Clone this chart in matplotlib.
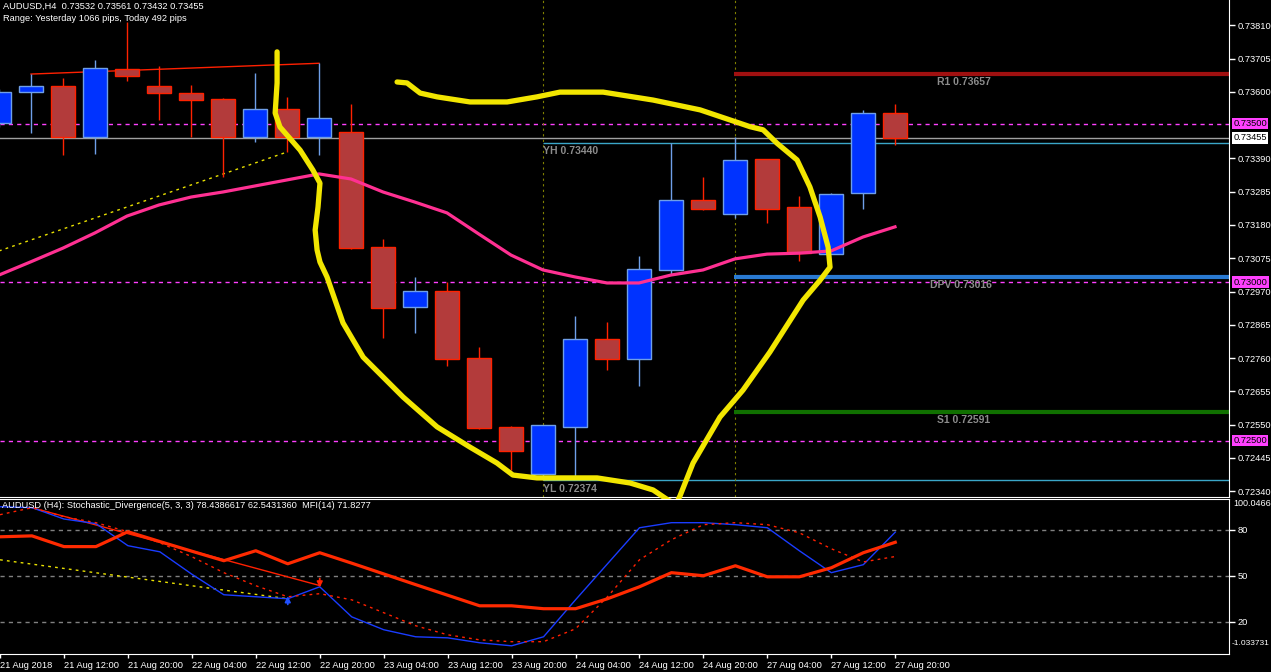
import numpy as np
import matplotlib.pyplot as plt
from matplotlib.transforms import blended_transform_factory

plt.rcParams['font.family'] = ['Liberation Sans', 'DejaVu Sans']

# ---- data (AUDUSD H4) ----
time_labels = ['21 Aug 2018', '21 Aug 12:00', '21 Aug 20:00', '22 Aug 04:00', '22 Aug 12:00',
               '22 Aug 20:00', '23 Aug 04:00', '23 Aug 12:00', '23 Aug 20:00', '24 Aug 04:00',
               '24 Aug 12:00', '24 Aug 20:00', '27 Aug 04:00', '27 Aug 12:00', '27 Aug 20:00']

opens = [0.73501, 0.73599, 0.73618, 0.73457, 0.73672, 0.73618, 0.73596, 0.73577, 0.73457, 0.73546,
         0.73457, 0.73473, 0.73110, 0.72921, 0.72972, 0.72760, 0.72543, 0.72394, 0.72543, 0.72820,
         0.72757, 0.73038, 0.73259, 0.73215, 0.73388, 0.73237, 0.73088, 0.73281, 0.73532]
highs = [0.73610, 0.73656, 0.73644, 0.73700, 0.73820, 0.73681, 0.73621, 0.73580, 0.73659, 0.73584,
         0.73690, 0.73562, 0.73136, 0.73016, 0.73000, 0.72795, 0.72546, 0.72550, 0.72893, 0.72874,
         0.73082, 0.73440, 0.73331, 0.73457, 0.73388, 0.73271, 0.73281, 0.73543, 0.73561]
lows = [0.73490, 0.73470, 0.73401, 0.73404, 0.73634, 0.73511, 0.73457, 0.73331, 0.73442, 0.73410,
        0.73401, 0.73105, 0.72823, 0.72839, 0.72735, 0.72536, 0.72407, 0.72374, 0.72385, 0.72722,
        0.72672, 0.73022, 0.73227, 0.73202, 0.73186, 0.73066, 0.73088, 0.73230, 0.73432]
closes = [0.73599, 0.73618, 0.73457, 0.73675, 0.73650, 0.73596, 0.73574, 0.73457, 0.73546, 0.73457,
          0.73517, 0.73107, 0.72918, 0.72972, 0.72757, 0.72539, 0.72467, 0.72549, 0.72820, 0.72757,
          0.73041, 0.73259, 0.73230, 0.73385, 0.73230, 0.73091, 0.73278, 0.73533, 0.73455]

ma_values = [0.73022, 0.73064, 0.73107, 0.73155, 0.73208, 0.73243, 0.73268, 0.73284, 0.73303, 0.73322,
             0.73341, 0.73325, 0.73284, 0.73252, 0.73218, 0.73151, 0.73085, 0.73038, 0.73016, 0.72997,
             0.72997, 0.73022, 0.73038, 0.73073, 0.73088, 0.73091, 0.73098, 0.73142, 0.73174]

mfi_values = [75.4, 76.0, 69.0, 69.0, 78.7, 72.3, 66.0, 59.8, 66.3, 57.8, 65.0, 58.2, 51.2, 44.2, 37.3,
              30.4, 30.4, 28.5, 28.5, 35.0, 42.8, 52.0, 50.0, 56.5, 49.3, 49.3, 55.2, 65.0, 71.83]
stoch_main = [95.0, 94.4, 87.0, 84.0, 69.6, 65.6, 51.0, 37.6, 36.3, 35.0, 42.8, 23.2, 14.8, 10.2, 9.5,
              6.3, 4.3, 10.2, 34.3, 57.8, 81.3, 84.6, 84.6, 83.3, 81.3, 66.3, 52.0, 57.2, 78.44]
stoch_signal = [89.8, 94.4, 88.5, 84.6, 78.7, 71.5, 62.4, 52.0, 43.5, 36.3, 38.3, 34.3, 25.9, 17.4, 11.5,
                8.2, 7.0, 7.0, 15.4, 36.3, 60.4, 73.5, 83.3, 84.6, 83.3, 78.0, 67.6, 59.0, 62.54]

bid = 0.73455
yh, yl = 0.73440, 0.72374
r1, dpv, s1 = 0.73657, 0.73016, 0.72591
round_levels = [0.735, 0.730, 0.725]
price_ticks = [0.73810, 0.73705, 0.73600, 0.73390, 0.73285, 0.73180, 0.73075, 0.72970,
               0.72865, 0.72760, 0.72655, 0.72550, 0.72445, 0.72340]
separator_bars = [17, 23]

# hand drawn yellow loop (bar position, price)
scribble_bar = [8.69, 8.69, 8.63, 8.78, 9.41, 9.81, 10.03, 9.97, 9.88, 9.94, 10.03, 10.25, 10.75, 11.38,
                12.63, 13.69, 14.72, 15.56, 16.06, 16.81, 18.69, 19.72, 20.44, 20.91, 21.16, 21.28,
                21.69, 22.53, 23.25, 24.09, 25.13, 25.66, 25.97, 25.91, 25.66, 25.34, 24.94, 24.31,
                23.88, 23.47, 21.91, 20.44, 18.88, 17.53, 16.81, 15.88, 14.72, 13.69, 13.16, 12.75, 12.44]
scribble_price = [0.73726, 0.73628, 0.73533, 0.73489, 0.73416, 0.73353, 0.73312, 0.73237, 0.73164,
                  0.73101, 0.73063, 0.73016, 0.72871, 0.72763, 0.72637, 0.72543, 0.72479, 0.72429,
                  0.72391, 0.72382, 0.72382, 0.72366, 0.72344, 0.72312, 0.72300, 0.72325, 0.72429,
                  0.72574, 0.72659, 0.72779, 0.72943, 0.73006, 0.73047, 0.73110, 0.73205, 0.73300,
                  0.73385, 0.73438, 0.73480, 0.73490, 0.73543, 0.73574, 0.73599, 0.73599, 0.73584,
                  0.73568, 0.73568, 0.73584, 0.73596, 0.73628, 0.73631]

# ---- figure ----
W, H = 1271, 672
fig = plt.figure(figsize=(W / 100, H / 100), dpi=100, facecolor='black')
ax = fig.add_axes([0, 1 - 497 / H, 1229 / W, 497 / H], facecolor='black')
ind = fig.add_axes([0, 1 - 654 / H, 1229 / W, 155 / H], facecolor='black')

x = np.arange(len(opens))
o, hi, lo, c = map(np.array, (opens, highs, lows, closes))
bull = c >= o
xmax = 1230 / 32

for a in (ax, ind):
    a.set_xlim(1 / 32, xmax)
    for s in ('left', 'top', 'right', 'bottom'):
        a.spines[s].set_color('white')
    a.spines['left'].set_visible(False)
ax.spines['top'].set_visible(False)

ax.set_ylim(0.723218, 0.738896)

# horizontal levels
for lv in round_levels:
    ax.axhline(lv, color='#ff40ff', lw=1, ls=(0, (3, 3)), zorder=1)
ax.axhline(bid, color='#a0a0a0', lw=1, zorder=1)
ax.hlines([yh, yl], 17, xmax, color='#3aa6c8', lw=1, zorder=1)
for b in separator_bars:
    ax.axvline(b, color='#808000', lw=0.8, ls=(0, (2, 3)), zorder=1)
ax.hlines(r1, 22.97, xmax, color='#a01010', lw=3, zorder=2)
ax.hlines(dpv, 22.97, xmax, color='#2a7ad2', lw=3, zorder=2)
ax.hlines(s1, 22.97, xmax, color='#107000', lw=3, zorder=2)

lab = dict(color='#8c8c8c', fontsize=7.5, fontweight='bold', va='top', ha='left',
           textcoords='offset points', xytext=(0, -2.5))
ax.annotate('YH %.5f' % yh, (17, yh), **lab)
ax.annotate('YL %.5f' % yl, (17, yl), **lab)
ax.annotate('R1 %.5f' % r1, (29.3, r1), **lab)
ax.annotate('DPV %.5f' % dpv, (29.1, dpv), **lab)
ax.annotate('S1 %.5f' % s1, (29.3, s1), **lab)

# divergence trend lines
ax.plot([0, 9], [0.73098, lows[9]], color='#e8e000', lw=1, ls=(0, (2, 3)), zorder=3)
ax.plot([1, 10], [highs[1], highs[10]], color='#ff2000', lw=1, zorder=3)

# candles
ax.vlines(x[bull], lo[bull], hi[bull], color='#6f9fe8', lw=1, zorder=3)
ax.vlines(x[~bull], lo[~bull], hi[~bull], color='#ff2200', lw=1, zorder=3)
ax.bar(x[bull], (c - o)[bull], bottom=o[bull], width=0.75, color='#0033ff',
       edgecolor='#6f9fe8', lw=1, zorder=4)
ax.bar(x[~bull], (o - c)[~bull], bottom=c[~bull], width=0.75, color='#b33b3b',
       edgecolor='#ff2200', lw=1, zorder=4)

ax.plot(x, ma_values, color='#ff3092', lw=2.3, zorder=5)

ax.plot(scribble_bar, scribble_price, color='#f2e600', lw=3.8, solid_capstyle='round',
        solid_joinstyle='round', zorder=10, clip_on=False)

# price axis
ax.set_xticks([])
ax.yaxis.tick_right()
ax.set_yticks(price_ticks)
ax.set_yticklabels(['%.5f' % p for p in price_ticks])
ax.tick_params(axis='y', colors='white', length=4, width=1, pad=2, labelsize=6.7)
tr = blended_transform_factory(ax.transAxes, ax.transData)
for lv in round_levels:
    ax.text(1.0035, lv, '%.5f' % lv, transform=tr, ha='left', va='center', fontsize=6.7,
            color='black', clip_on=False,
            bbox=dict(boxstyle='square,pad=0.15', fc='#ff40ff', ec='none'))
ax.text(1.0035, bid, '%.5f' % bid, transform=tr, ha='left', va='center', fontsize=6.7,
        color='black', clip_on=False,
        bbox=dict(boxstyle='square,pad=0.15', fc='white', ec='none'))

# ---- indicator ----
ind.set_ylim(-1.033731, 100.0466)
for lv in (20, 50, 80):
    ind.axhline(lv, color='#808080', lw=1, ls=(0, (3, 3)), zorder=1)
ind.plot([0, 9], [60.4, 35.0], color='#e8e000', lw=1, ls=(0, (2, 3)), zorder=2)
ind.plot([1, 10], [94.4, 43.6], color='#ff2000', lw=1, zorder=2)
ind.plot(x, stoch_main, color='#1a3cff', lw=1, zorder=3)
ind.plot(x, stoch_signal, color='#ff2000', lw=1, ls=(0, (2, 3)), zorder=3)
ind.plot(x, mfi_values, color='#ff2a00', lw=2.3, zorder=4)
ind.annotate('', xy=(9, 38.5), xytext=(9, 29.5),
             arrowprops=dict(arrowstyle='-|>', color='#2050ff', lw=1.3, mutation_scale=8))
ind.annotate('', xy=(10, 40.5), xytext=(10, 50),
             arrowprops=dict(arrowstyle='-|>', color='#ff2000', lw=1.3, mutation_scale=8))

ind.yaxis.tick_right()
ind.set_yticks([20, 50, 80])
ind.set_yticklabels(['20', '50', '80'])
ind.tick_params(axis='y', colors='white', length=4, width=1, pad=2, labelsize=6.7)
tri = blended_transform_factory(ind.transAxes, ind.transData)
ind.text(1.0035, 100.0466, '100.0466', transform=tri, ha='left', va='top', fontsize=6.5,
         color='white', clip_on=False)
ind.text(1.002, 6, '-1.033731', transform=tri, ha='left', va='center', fontsize=6,
         color='white', clip_on=False)

ind.set_xticks(x[::2])
ind.set_xticklabels(time_labels)
ind.tick_params(axis='x', colors='white', length=3, width=1, pad=2, labelsize=6.7)
plt.setp(ind.get_xticklabels(), ha='left')

# header texts
fig.text(3 / W, 1 - 2 / H, 'AUDUSD,H4  0.73532 0.73561 0.73432 0.73455', color='white',
         fontsize=6.7, va='top', ha='left')
fig.text(3 / W, 1 - 14 / H, 'Range: Yesterday 1066 pips, Today 492 pips', color='white',
         fontsize=6.7, va='top', ha='left')
fig.text(2 / W, 1 - 501 / H,
         'AUDUSD (H4): Stochastic_Divergence(5, 3, 3) 78.4386617 62.5431360  MFI(14) 71.8277',
         color='white', fontsize=6.7, va='top', ha='left')

fig.savefig('out.png', dpi=100, facecolor='black')
